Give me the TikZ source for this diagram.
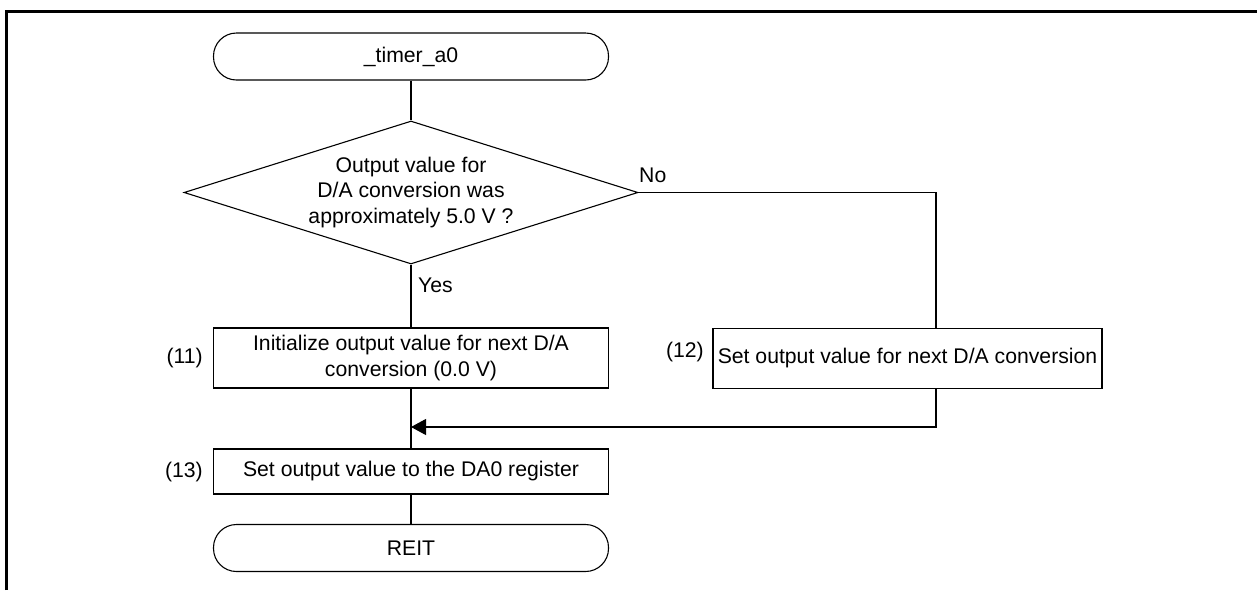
\documentclass[tikz,border=0pt]{standalone}
\usepackage{fontspec}
\setmainfont{Liberation Sans}
\usetikzlibrary{shapes.geometric,arrows.meta}
\begin{document}
\begin{tikzpicture}[x=1pt,y=-1pt,
  every node/.style={font=\fontsize{21.2}{25.5}\selectfont},
  conn/.style={line width=1.1pt},
  term/.style={draw,line width=1.1pt,rounded corners=23pt,minimum width=395pt,minimum height=47pt,inner sep=0pt},
  proc/.style={draw,line width=1.1pt,minimum width=395pt,inner sep=0pt,align=center},
  decis/.style={draw,line width=1.1pt,diamond,aspect=3.17,minimum width=454pt,minimum height=143pt,inner sep=0pt,align=center},
  lbl/.style={inner sep=0pt}
]
\useasboundingbox (0,0) rectangle (1257,590);
\draw[line width=2.6pt] (6.2,590) -- (6.2,11.3) -- (1257,11.3);

\node[term] (start) at (411,56.5) {\_timer\_a0};
\node[decis] (dec) at (411,192.5) {Output value for\\D/A conversion was\\approximately 5.0 V ?};
\node[proc,minimum height=60pt] (b11) at (411,358) {Initialize output value for next D/A\\conversion (0.0 V)};
\node[proc,minimum width=389pt,minimum height=60pt] (b12) at (907.5,358.5) {Set output value for next D/A conversion};
\node[proc,minimum height=45pt] (b13) at (411,471.5) {Set output value to the DA0 register};
\node[term] (reit) at (411,548) {REIT};

\node[lbl,anchor=east] (l11) at (203,358) {(11)};
\node[lbl,anchor=east] (l12) at (704,352) {(12)};
\node[lbl,anchor=east] (l13) at (203,472) {(13)};
\node[lbl,anchor=west] (yes) at (418,285) {Yes};
\node[lbl,anchor=west] (no) at (639,175) {No};

\coordinate (m) at (411,427);
\draw[conn] (start.south) -- (dec.north);
\draw[conn] (dec.south) -- (b11.north);
\draw[conn] (b11.south) -- (b13.north);
\draw[conn] (b13.south) -- (reit.north);
\draw[conn] (dec.east) -| (b12.north -| 936,0);
\draw[conn,-{Triangle[length=15pt,width=16pt]}] (b12.south -| 936,0) |- (m);
\end{tikzpicture}
\end{document}
